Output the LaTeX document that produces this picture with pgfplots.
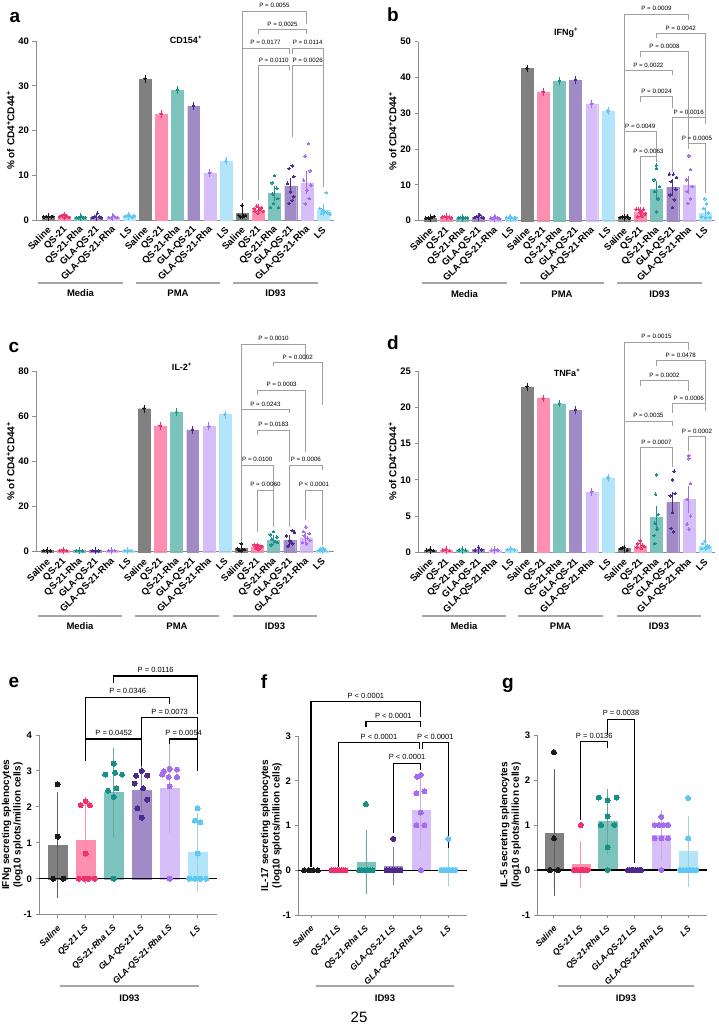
\documentclass[border=0pt]{standalone}
\usepackage{fontspec}
\setmainfont{Liberation Sans}
\usepackage{pgfplots}
\pgfplotsset{compat=1.18}

\definecolor{salB}{HTML}{808080}\definecolor{salD}{HTML}{1A1A1A}
\definecolor{qsB}{HTML}{FF8FB1}\definecolor{qsD}{HTML}{F2306C}
\definecolor{rhB}{HTML}{7CC3BD}\definecolor{rhD}{HTML}{17908A}
\definecolor{glB}{HTML}{A18BC6}\definecolor{glD}{HTML}{4B2A8C}
\definecolor{grB}{HTML}{D6BEF9}\definecolor{grD}{HTML}{A56CF0}
\definecolor{lsB}{HTML}{B3E5FA}\definecolor{lsD}{HTML}{5EC8F4}
\definecolor{axg}{HTML}{8C8C8C}
\definecolor{brg}{HTML}{A0A0A0}
\definecolor{grp}{HTML}{A6A6A6}

\newcommand{\tickf}{\fontsize{9.5}{10}\selectfont\bfseries}
\newcommand{\xlabf}{\fontsize{9.5}{10}\selectfont\bfseries}
\newcommand{\xlabe}{\fontsize{8.7}{9}\selectfont\bfseries\itshape}
\newcommand{\ylabf}{\fontsize{10}{11.5}\selectfont\bfseries}
\newcommand{\ptA}{\fontsize{6.2}{7}\selectfont}
\newcommand{\ptE}{\fontsize{7.5}{8}\selectfont}
\newcommand{\titf}{\fontsize{9}{10}\selectfont\bfseries}
\newcommand{\letf}{\fontsize{19}{20}\selectfont\bfseries}
\newcommand{\grpf}{\fontsize{9.5}{10}\selectfont\bfseries}

\tikzset{
  brkA/.style={draw=brg, line width=0.8pt},
  brkE/.style={draw=black, line width=1.2pt},
  ptA/.style={above=2.2pt, inner sep=0.5pt, font=\ptA},
  ptE/.style={above=2.2pt, inner sep=0.5pt, font=\ptE},
  grpl/.style={draw=grp, line width=1.3pt},
}

% significance brackets: x1, x2, height, left leg end, right leg end, text
\newcommand{\brk}[6]{\draw[brkA] (axis cs:#1,#4) -- (axis cs:#1,#3) -- node[ptA]{#6} (axis cs:#2,#3) -- (axis cs:#2,#5);}
\newcommand{\brke}[6]{\draw[brkE] (axis cs:#1,#4) -- (axis cs:#1,#3) -- node[ptE]{#6} (axis cs:#2,#3) -- (axis cs:#2,#5);}

% bars with error bars: bar colour, error colour, bar width, coordinates, cap half-width
\newcommand{\barset}[5]{\addplot[ybar, bar shift=0pt, bar width=#3, fill=#1, draw=#1, line width=0.2pt,
  error bars/.cd, y dir=both, y explicit,
  error bar style={draw=#2, line width=0.8pt},
  error mark options={draw=#2, mark size=#5, line width=0.8pt}] coordinates {#4};}
% individual animals
\newcommand{\pts}[3]{\addplot[only marks, mark=*, mark size=#2, color=#1, mark options={fill=#1, draw=#1, line width=0pt}] coordinates {#3};}

\pgfplotsset{
  prism/.style={scale only axis, axis lines=left, enlargelimits=false, clip=false,
    axis line style={-, draw=axg, line width=0.9pt},
    tick style={draw=axg, line width=0.9pt},
    tick align=outside, major tick length=3.5pt,
    tick label style={font=\tickf},
    /pgf/number format/assume math mode=true,
    ylabel style={font=\ylabf}},
  top4/.style={prism, ymin=0, xtick={0,...,17}, major x tick style={draw=none},
    xticklabels={Saline,QS-21,QS-21-Rha,GLA-QS-21,GLA-QS-21-Rha,LS,Saline,QS-21,QS-21-Rha,GLA-QS-21,GLA-QS-21-Rha,LS,Saline,QS-21,QS-21-Rha,GLA-QS-21,GLA-QS-21-Rha,LS},
    xticklabel style={font=\xlabf, xshift=2pt, yshift=-4pt, rotate=45, anchor=east, inner sep=1pt},
    ylabel shift=-3pt,
    ylabel={\% of CD4\textsuperscript{+}CD44\textsuperscript{+}}},
  bot3/.style={prism, ymin=-1, ytick={-1,0,...,4}, xtick={0,...,5},
    xticklabels={Saline,QS-21 LS,QS-21-Rha LS,GLA-QS-21 LS,GLA-QS-21-Rha LS,LS},
    xticklabel style={font=\xlabe, xshift=2pt, yshift=-8pt, rotate=45, anchor=east, inner sep=1pt},
    ylabel shift=-6pt,
    ylabel style={align=center}},
}

\begin{document}
\begin{tikzpicture}
\fill[white] (0pt,0pt) rectangle (719pt,1029pt);
\path[use as bounding box] (0pt,0pt) rectangle (719pt,1029pt);

%% ---------------- a: CD154+ ----------------
\begin{axis}[top4, at={(36pt,809pt)}, width=298pt, height=179pt, xmin=-0.742, xmax=17.68, ymax=40, ytick={0,10,...,40}]
\barset{salB}{salD}{0.74}{(0,0.7) +- (0,0.05) (6,31.5) +- (0,0.1) (12,1.5) +- (0,0.6)}{3.5pt}
\barset{qsB}{qsD}{0.74}{(1,0.8) +- (0,0.1) (7,23.6) +- (0,0.1) (13,2.3) +- (0,0.4)}{3.5pt}
\barset{rhB}{rhD}{0.74}{(2,0.6) +- (0,0.1) (8,29.0) +- (0,0.1) (14,5.9) +- (0,0.9)}{3.5pt}
\barset{glB}{glD}{0.74}{(3,0.7) +- (0,0.1) (9,25.4) +- (0,0.1) (15,7.6) +- (0,1.1)}{3.5pt}
\barset{grB}{grD}{0.74}{(4,0.6) +- (0,0.1) (10,10.5) +- (0,0.1) (16,8.3) +- (0,1.8)}{3.5pt}
\barset{lsB}{lsD}{0.74}{(5,0.8) +- (0,0.1) (11,13.1) +- (0,0.1) (17,2.3) +- (0,0.6)}{3.5pt}
\pts{salD}{1.3pt}{(-0.25,0.7)(-0.1,0.8)(0.05,0.75)(0.2,0.7)(0.3,0.8)(6,31.6)(12,3.3)(11.8,1.0)(12.2,1.0)(11.9,0.7)(12.1,0.9)}
\pts{qsD}{1.3pt}{(0.7,0.7)(0.85,1.0)(1,1.3)(1.15,0.9)(1.3,0.6)(1,0.5)(7,23.7)(12.75,2.6)(12.9,3.1)(13.05,2.2)(13.2,2.8)(13.3,1.9)(13,1.5)(12.8,2.0)(13.1,2.4)}
\pts{rhD}{1.3pt}{(1.75,0.6)(1.9,0.5)(2.05,0.8)(2.2,0.5)(2.3,0.6)(8,29.1)(14,9.9)(13.85,8.3)(14.15,7.1)(13.9,5.8)(14.2,4.8)(13.95,3.7)(14.25,2.8)(13.75,2.8)}
\pts{glD}{1.3pt}{(2.75,0.6)(2.9,0.8)(3.05,1.5)(3.2,0.7)(3.3,0.5)(9,25.5)(15.1,12.1)(14.9,11.5)(15.2,9.7)(14.8,8.2)(15,6.3)(15.2,5.2)(14.9,3.7)(15.1,4.4)}
\pts{grD}{1.3pt}{(3.75,0.6)(3.9,0.5)(4.05,1.0)(4.2,0.6)(4.3,0.6)(10,10.55)(16.1,17.1)(15.9,14.3)(16.2,11.0)(15.8,8.9)(16,6.7)(16.15,4.8)(15.9,3.6)(16.25,7.8)}
\pts{lsD}{1.3pt}{(4.75,0.8)(4.9,0.9)(5.05,1.1)(5.2,0.7)(5.3,0.9)(11,13.15)(17.2,6.1)(16.8,2.6)(17,2.2)(17.3,1.6)(17.45,1.3)(16.9,1.5)(17.1,1.8)}
\brk{12}{16}{46.7}{38.4}{43.8}{P = 0.0055}
\brk{13}{16}{42.6}{41.5}{41.5}{P = 0.0025}
\brk{12}{14.9}{38.4}{4.5}{37.2}{P = 0.0177}
\brk{15.1}{17}{38.4}{37.2}{7.4}{P = 0.0114}
\brk{13}{14.9}{34.5}{4.5}{33.5}{P = 0.0110}
\brk{15.1}{17}{34.5}{18.6}{33.5}{P = 0.0026}
\end{axis}

%% ---------------- b: IFNg+ ----------------
\begin{axis}[top4, at={(418pt,808.3pt)}, width=297pt, height=179pt, xmin=-0.742, xmax=17.62, ymax=50, ytick={0,10,...,50}]
\barset{salB}{salD}{0.74}{(0,0.8) +- (0,0.1) (6,42.5) +- (0,0.1) (12,1.0) +- (0,0.2)}{3.5pt}
\barset{qsB}{qsD}{0.74}{(1,1.0) +- (0,0.1) (7,35.9) +- (0,0.1) (13,2.4) +- (0,0.5)}{3.5pt}
\barset{rhB}{rhD}{0.74}{(2,0.8) +- (0,0.1) (8,39.0) +- (0,0.1) (14,8.7) +- (0,1.5)}{3.5pt}
\barset{glB}{glD}{0.74}{(3,1.0) +- (0,0.2) (9,39.3) +- (0,0.1) (15,9.3) +- (0,1.4)}{3.5pt}
\barset{grB}{grD}{0.74}{(4,0.7) +- (0,0.1) (10,32.6) +- (0,0.1) (16,9.9) +- (0,1.5)}{3.5pt}
\barset{lsB}{lsD}{0.74}{(5,0.8) +- (0,0.1) (11,30.6) +- (0,0.1) (17,2.2) +- (0,0.7)}{3.5pt}
\pts{salD}{1.3pt}{(-0.25,0.7)(-0.1,0.8)(0.1,0.9)(0.25,1.2)(0,0.6)(6,42.6)(11.75,0.9)(11.9,1.1)(12.05,1.0)(12.2,1.3)(12.3,0.8)}
\pts{qsD}{1.3pt}{(0.75,1.0)(0.9,1.2)(1.05,1.1)(1.2,1.0)(1.3,0.8)(7,36.0)(12.75,3.2)(12.9,3.2)(13.05,2.5)(13.2,3.2)(13.3,1.9)(12.85,1.1)(13.1,1.3)(13,2.2)}
\pts{rhD}{1.3pt}{(1.75,0.8)(1.9,0.9)(2.05,0.7)(2.2,0.8)(2.3,0.8)(8,39.1)(14,15.5)(14,14.6)(13.85,11.4)(14.2,9.5)(13.9,8.1)(14.1,6.1)(14,2.5)}
\pts{glD}{1.3pt}{(2.75,0.9)(2.9,1.2)(3.05,1.6)(3.2,1.0)(3.3,0.8)(9,39.4)(14.8,13.0)(15.05,13.0)(15.25,12.1)(14.9,10.9)(15.2,8.8)(14.85,7.2)(15.1,5.8)(15,3.7)}
\pts{grD}{1.3pt}{(3.75,0.7)(3.9,0.8)(4.05,1.0)(4.2,0.7)(4.3,0.6)(10,32.7)(16,18.1)(16.1,14.3)(15.85,11.4)(16.2,9.5)(15.9,8.1)(16.1,6.1)(15.95,4.8)}
\pts{lsD}{1.3pt}{(4.75,0.8)(4.9,1.0)(5.05,0.9)(5.2,0.7)(5.3,0.8)(11,30.7)(17,6.1)(17.1,4.7)(16.9,3.4)(17.2,2.2)(16.8,1.1)(17.05,0.8)(17.3,0.9)}
\brk{12}{16}{57.7}{41.9}{56.1}{P = 0.0009}
\brk{14}{17}{52.3}{50.9}{28.9}{P = 0.0042}
\brk{13}{16}{47.2}{45.8}{20.5}{P = 0.0008}
\brk{12}{15}{41.9}{2.0}{40.7}{P = 0.0022}
\brk{13}{15}{34.6}{33.2}{31.5}{P = 0.0024}
\brk{15}{17}{28.9}{13.7}{27.0}{P = 0.0016}
\brk{12}{14}{24.9}{2.0}{16.5}{P = 0.0049}
\brk{13}{14}{17.9}{4.8}{16.5}{P = 0.0063}
\brk{16}{17}{21.6}{19.9}{7.6}{P = 0.0005}
\end{axis}

%% ---------------- c: IL-2+ ----------------
\begin{axis}[top4, at={(36pt,477.3pt)}, width=298pt, height=180.7pt, xmin=-0.68, xmax=17.74, ymax=80, ytick={0,20,...,80}]
\barset{salB}{salD}{0.74}{(0,0.5) +- (0,0.1) (6,63.3) +- (0,0.2) (12,1.5) +- (0,0.7)}{3.5pt}
\barset{qsB}{qsD}{0.74}{(1,0.6) +- (0,0.1) (7,55.7) +- (0,0.2) (13,2.1) +- (0,0.3)}{3.5pt}
\barset{rhB}{rhD}{0.74}{(2,0.5) +- (0,0.1) (8,61.7) +- (0,0.2) (14,5.2) +- (0,0.8)}{3.5pt}
\barset{glB}{glD}{0.74}{(3,0.5) +- (0,0.1) (9,53.9) +- (0,0.2) (15,5.0) +- (0,1.0)}{3.5pt}
\barset{grB}{grD}{0.74}{(4,0.6) +- (0,0.1) (10,55.5) +- (0,0.2) (16,6.2) +- (0,0.9)}{3.5pt}
\barset{lsB}{lsD}{0.74}{(5,0.6) +- (0,0.1) (11,60.7) +- (0,0.2) (17,0.9) +- (0,0.2)}{3.5pt}
\pts{salD}{1.3pt}{(-0.2,0.5)(0,0.7)(0.2,0.4)(6,63.5)(12,3.5)(11.8,1.2)(12.2,1.0)(11.9,0.5)(12.1,0.8)}
\pts{qsD}{1.3pt}{(0.8,0.6)(1,0.8)(1.2,0.5)(7,55.8)(12.8,3.0)(12.95,2.5)(13.1,2.8)(13.25,2.0)(12.9,1.5)(13.1,1.2)(13.3,2.3)}
\pts{rhD}{1.3pt}{(1.8,0.5)(2,0.6)(2.2,0.4)(8,61.8)(14,8.9)(13.8,7.5)(14.2,6.5)(13.9,5.5)(14.1,4.5)(14.25,4.0)(13.85,3.0)}
\pts{glD}{1.3pt}{(2.8,0.5)(3,0.6)(3.2,0.4)(9,54.0)(15.15,9.3)(15.3,8.6)(14.8,7.0)(15,5.0)(15.2,3.5)(14.9,2.5)(15.1,4.2)}
\pts{grD}{1.3pt}{(3.8,0.6)(4,0.7)(4.2,0.5)(10,55.6)(16,10.9)(15.85,9.0)(16.2,8.0)(15.9,7.0)(16.1,6.0)(16.25,5.0)(15.8,4.0)(16.05,3.5)}
\pts{lsD}{1.3pt}{(4.8,0.6)(5,0.7)(5.2,0.5)(11,60.8)(16.9,1.5)(17.1,1.2)(17,0.8)(17.2,0.7)(16.8,0.6)}
\brk{12}{16}{92.0}{63.1}{84.9}{P = 0.0010}
\brk{14}{17}{83.8}{82.0}{65.0}{P = 0.0002}
\brk{13}{16}{71.6}{69.4}{44.3}{P = 0.0003}
\brk{12}{15}{63.1}{4.4}{61.3}{P = 0.0243}
\brk{13}{15}{53.9}{51.7}{39.9}{P = 0.0183}
\brk{12}{14}{38.4}{4.4}{27.3}{P = 0.0100}
\brk{15}{17}{38.4}{11.1}{36.2}{P = 0.0006}
\brk{13}{14}{27.3}{8.9}{11.1}{P = 0.0060}
\brk{16}{17}{27.3}{14.0}{3.0}{P < 0.0001}
\end{axis}

%% ---------------- d: TNFa+ ----------------
\begin{axis}[top4, at={(418pt,476.7pt)}, width=297pt, height=181.3pt, xmin=-0.742, xmax=17.62, ymax=25, ytick={0,5,...,25}]
\barset{salB}{salD}{0.74}{(0,0.3) +- (0,0.05) (6,22.8) +- (0,0.05) (12,0.55) +- (0,0.1)}{3.5pt}
\barset{qsB}{qsD}{0.74}{(1,0.3) +- (0,0.05) (7,21.2) +- (0,0.05) (13,0.9) +- (0,0.15)}{3.5pt}
\barset{rhB}{rhD}{0.74}{(2,0.35) +- (0,0.05) (8,20.5) +- (0,0.05) (14,4.8) +- (0,1.1)}{3.5pt}
\barset{glB}{glD}{0.74}{(3,0.4) +- (0,0.1) (9,19.6) +- (0,0.05) (15,6.9) +- (0,1.0)}{3.5pt}
\barset{grB}{grD}{0.74}{(4,0.3) +- (0,0.05) (10,8.3) +- (0,0.05) (16,7.3) +- (0,1.4)}{3.5pt}
\barset{lsB}{lsD}{0.74}{(5,0.4) +- (0,0.05) (11,10.2) +- (0,0.05) (17,0.9) +- (0,0.2)}{3.5pt}
\pts{salD}{1.3pt}{(-0.2,0.3)(0,0.4)(0.2,0.25)(6,22.85)(12,0.7)(11.8,0.5)(12.2,0.3)(11.9,0.6)}
\pts{qsD}{1.3pt}{(0.8,0.3)(1,0.45)(1.2,0.25)(7,21.25)(13,1.6)(12.85,1.2)(13.15,1.0)(13.25,0.8)(12.8,0.7)(13.05,0.5)}
\pts{rhD}{1.3pt}{(1.8,0.3)(2,0.45)(2.2,0.3)(8,20.55)(14,10.7)(13.95,8.0)(14.1,5.2)(13.9,4.0)(14.05,3.2)(13.85,2.3)(13.9,1.2)}
\pts{glD}{1.3pt}{(2.8,0.3)(3,0.7)(3.2,0.35)(9,19.65)(15.1,11.2)(15,10.0)(15.15,8.1)(14.85,7.8)(15,5.5)(14.9,3.3)(15.05,2.8)}
\pts{grD}{1.3pt}{(3.8,0.3)(4,0.35)(4.2,0.3)(10,8.35)(16,13.3)(16,12.9)(16.1,9.5)(15.9,7.3)(16.1,5.0)(15.9,3.9)(16,3.2)}
\pts{lsD}{1.3pt}{(4.8,0.4)(5,0.5)(5.2,0.35)(11,10.25)(17,1.5)(16.85,1.2)(17.15,0.9)(17.25,0.7)(16.8,0.5)(17.05,0.6)}
\brk{12}{16}{29.0}{18.1}{27.9}{P = 0.0015}
\brk{14}{17}{26.4}{25.7}{20.5}{P = 0.0478}
\brk{13}{16}{23.7}{22.9}{22.3}{P = 0.0002}
\brk{15}{17}{20.5}{19.2}{19.5}{P = 0.0006}
\brk{12}{15}{18.1}{1.0}{17.4}{P = 0.0035}
\brk{16}{17}{16.0}{13.9}{1.5}{P = 0.0002}
\brk{13}{15}{14.4}{1.7}{11.8}{P = 0.0007}
\end{axis}

%% ---------------- e: IFNg ELISpot ----------------
\begin{axis}[bot3, at={(39pt,114.3pt)}, width=178pt, height=179.7pt, xmin=-0.668, xmax=5.69, ymax=4,
  ylabel={IFNg secreting splenocytes\\(log10 splots/million cells)}]
\barset{salB}{salB!75!black}{0.68}{(0,0.95) +- (0,1.25)}{8pt}
\barset{qsB}{qsB}{0.68}{(1,1.07) +- (0,0.99)}{8pt}
\barset{rhB}{rhB!85!black}{0.68}{(2,2.40) +- (0,1.01)}{8pt}
\barset{glB}{glB!85!black}{0.68}{(3,2.48) +- (0,0.43)}{8pt}
\barset{grB}{grB!90!black}{0.68}{(4,2.53) +- (0,1.03)}{8pt}
\barset{lsB}{lsB!90!black}{0.68}{(5,0.74) +- (0,0.87)}{8pt}
\draw[black, line width=1.1pt] (axis cs:-0.668,0) -- (axis cs:5.69,0);
\pts{salD}{2.5pt}{(-0.16,0)(0.2,0)(0,2.63)(0,1.17)}
\pts{qsD}{2.5pt}{(1,2.16)(0.82,2.05)(1.15,2.05)(1,0.7)(0.76,0)(0.95,0)(1.1,0)(1.32,0)}
\pts{rhD}{2.5pt}{(2,3.2)(2.05,2.95)(1.7,2.9)(2.3,2.9)(2.1,2.52)(1.8,2.45)(2,2.28)(2,0)}
\pts{glD}{2.5pt}{(3,3.0)(2.8,2.87)(3.2,2.87)(2.75,2.65)(3.05,2.52)(3.2,2.2)(2.85,1.96)(3,1.7)}
\pts{grD}{2.5pt}{(3.79,2.99)(4,3.06)(4.26,3.04)(3.73,2.9)(3.96,2.83)(4.26,2.83)(4,2.57)(4,0)}
\pts{lsD}{2.5pt}{(5,1.96)(4.9,1.62)(5.1,1.57)(5,0.7)(4.7,0)(4.9,0)(5.1,0)(5.3,0)}
\brke{1}{3}{3.89}{3.27}{3.13}{P = 0.0452}
\brke{4}{5}{3.89}{3.76}{2.99}{P = 0.0054}
\brke{3}{5}{4.49}{3.89}{3.89}{P = 0.0073}
\brke{1}{4}{5.05}{3.89}{4.85}{P = 0.0346}
\brke{2}{5}{5.64}{5.45}{4.58}{P = 0.0116}
\end{axis}

%% ---------------- f: IL-17 ELISpot ----------------
\begin{axis}[bot3, at={(298pt,114pt)}, width=168.7pt, height=179pt, xmin=-0.473, xmax=5.67, ymax=3,
  ylabel={IL-17 secreting splenocytes\\(log10 splots/million cells)}]
\barset{rhB}{rhB!85!black}{0.67}{(2,0.18) +- (0,0.53)}{8pt}
\barset{glB}{glB!85!black}{0.67}{(3,0.09) +- (0,0.25)}{8pt}
\barset{grB}{grB!90!black}{0.67}{(4,1.34) +- (0,0.68)}{8pt}
\barset{lsB}{lsB!90!black}{0.67}{(5,0.08) +- (0,0.25)}{8pt}
\draw[black, line width=1.1pt] (axis cs:-0.473,0) -- (axis cs:5.67,0);
\pts{salD}{2.5pt}{(-0.25,0)(-0.08,0)(0.08,0)(0.25,0)}
\pts{qsD}{2.5pt}{(0.75,0)(0.82,0)(0.9,0)(0.97,0)(1.04,0)(1.11,0)(1.18,0)(1.25,0)}
\pts{rhD}{2.5pt}{(2,1.48)(1.75,0)(1.85,0)(1.95,0)(2.05,0)(2.15,0)(2.25,0)}
\pts{glD}{2.5pt}{(3,0.7)(2.75,0)(2.85,0)(2.95,0)(3.05,0)(3.15,0)(3.25,0)}
\pts{grD}{2.5pt}{(4,2.13)(3.87,2.09)(3.84,1.72)(4.13,1.76)(4,1.29)(3.84,1.0)(4.13,1.0)(4,0)}
\pts{lsD}{2.5pt}{(5,0.7)(4.75,0)(4.85,0)(4.95,0)(5.05,0)(5.15,0)(5.25,0)}
\brke{0}{4}{3.77}{0.08}{3.43}{P < 0.0001}
\brke{2}{4}{3.32}{3.19}{3.19}{P < 0.0001}
\brke{1}{3.95}{2.85}{0.08}{2.72}{P < 0.0001}
\brke{4.05}{5}{2.85}{2.72}{0.49}{P < 0.0001}
\brke{3}{4}{2.39}{0.83}{2.24}{P < 0.0001}
\end{axis}

%% ---------------- g: IL-5 ELISpot ----------------
\begin{axis}[bot3, at={(537.3pt,114pt)}, width=169.4pt, height=180pt, xmin=-0.62, xmax=5.69, ymax=3,
  ylabel={IL-5 secreting splenocytes\\(log10 splots/million cells)}]
\barset{salB}{salB!75!black}{0.68}{(0,0.83) +- (0,1.24)}{8pt}
\barset{qsB}{qsB}{0.68}{(1,0.12) +- (0,0.35)}{8pt}
\barset{rhB}{rhB!85!black}{0.68}{(2,1.08) +- (0,0.55)}{8pt}
\barset{grB}{grB!90!black}{0.68}{(4,0.78) +- (0,0.37)}{8pt}
\barset{lsB}{lsB!90!black}{0.68}{(5,0.41) +- (0,0.62)}{8pt}
\draw[black, line width=1.1pt] (axis cs:-0.62,0) -- (axis cs:5.69,0);
\pts{salD}{2.5pt}{(0,2.62)(0,0.7)(-0.15,0)(0.15,0)}
\pts{qsD}{2.5pt}{(1,1.0)(0.75,0)(0.83,0)(0.92,0)(1,0)(1.08,0)(1.17,0)(1.25,0)}
\pts{rhD}{2.5pt}{(1.67,1.61)(2.33,1.61)(2,1.55)(2,1.19)(1.75,1.0)(2.25,1.0)(2,0.5)(2,0)}
\pts{glD}{2.5pt}{(2.75,0)(2.82,0)(2.9,0)(2.97,0)(3.04,0)(3.11,0)(3.18,0)(3.25,0)}
\pts{grD}{2.5pt}{(4,1.18)(3.75,1.0)(3.92,1.0)(4.08,1.0)(4.25,1.0)(3.75,0.7)(4,0.7)(4.25,0.7)(4,0)}
\pts{lsD}{2.5pt}{(5,1.6)(5,0.7)(4.7,0)(4.82,0)(4.94,0)(5.06,0)(5.18,0)(5.3,0)}
\brke{1}{2}{2.85}{1.11}{2.70}{P = 0.0136}
\brke{2}{3}{3.35}{3.0}{0.15}{P = 0.0038}
\end{axis}

%% ---------------- titles, panel letters, group labels ----------------
\node[font=\titf] at (186pt,989pt) {CD154\textsuperscript{+}};
\node[font=\titf] at (566pt,996pt) {IFNg\textsuperscript{+}};
\node[font=\titf] at (182pt,662pt) {IL-2\textsuperscript{+}};
\node[font=\titf] at (567pt,656pt) {TNFa\textsuperscript{+}};

\node[font=\letf] at (15pt,1012pt) {a};
\node[font=\letf] at (393pt,1014pt) {b};
\node[font=\letf] at (14pt,682pt) {c};
\node[font=\letf] at (393pt,686pt) {d};
\node[font=\letf] at (14pt,347pt) {e};
\node[font=\letf] at (264pt,347pt) {f};
\node[font=\letf] at (508pt,344pt) {g};

\draw[grpl] (38pt,746pt) -- (123pt,746pt);  \node[font=\grpf] at (80.5pt,736pt) {Media};
\draw[grpl] (136pt,746pt) -- (220pt,746pt); \node[font=\grpf] at (178pt,736pt) {PMA};
\draw[grpl] (233pt,746pt) -- (318pt,746pt); \node[font=\grpf] at (275.5pt,736pt) {ID93};
\draw[grpl] (422pt,746pt) -- (507pt,746pt); \node[font=\grpf] at (464.5pt,735pt) {Media};
\draw[grpl] (520pt,746pt) -- (604pt,746pt); \node[font=\grpf] at (562pt,735pt) {PMA};
\draw[grpl] (617pt,746pt) -- (702pt,746pt); \node[font=\grpf] at (659.5pt,735pt) {ID93};
\draw[grpl] (38pt,413pt) -- (122pt,413pt);  \node[font=\grpf] at (80pt,403pt) {Media};
\draw[grpl] (135pt,413pt) -- (219pt,413pt); \node[font=\grpf] at (177pt,403pt) {PMA};
\draw[grpl] (233pt,413pt) -- (317pt,413pt); \node[font=\grpf] at (275pt,403pt) {ID93};
\draw[grpl] (422pt,413pt) -- (506pt,413pt); \node[font=\grpf] at (464pt,403pt) {Media};
\draw[grpl] (518pt,413pt) -- (603pt,413pt); \node[font=\grpf] at (560.5pt,403pt) {PMA};
\draw[grpl] (617pt,413pt) -- (701pt,413pt); \node[font=\grpf] at (659pt,403pt) {ID93};
\draw[grpl] (60pt,43pt) -- (199pt,43pt);   \node[font=\grpf] at (129.5pt,31pt) {ID93};
\draw[grpl] (316pt,43pt) -- (454pt,43pt);  \node[font=\grpf] at (385pt,31pt) {ID93};
\draw[grpl] (558pt,43pt) -- (694pt,43pt);  \node[font=\grpf] at (626pt,31pt) {ID93};

\node[font=\fontsize{15}{16}\selectfont] at (359pt,12pt) {25};
\end{tikzpicture}
\end{document}
